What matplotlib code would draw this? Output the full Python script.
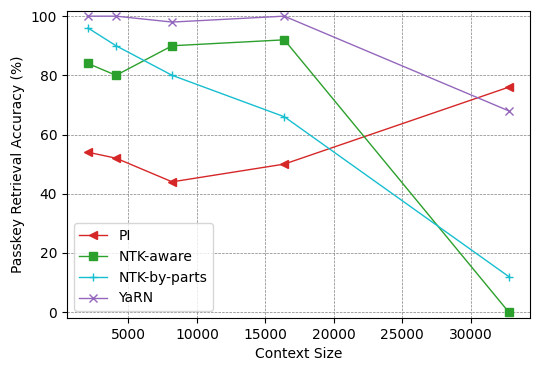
import matplotlib
matplotlib.use("Agg")
import matplotlib.pyplot as plt

# Context sizes and accuracy per method
context_sizes = [2048, 4096, 8192, 16384, 32768]
pi_acc = [54, 52, 44, 50, 76]
ntk_aware_acc = [84, 80, 90, 92, 0]
ntk_by_parts_acc = [96, 90, 80, 66, 12]
yarn_acc = [100, 100, 98, 100, 68]

fig, ax = plt.subplots(figsize=(5.4, 3.71), dpi=100)

ax.plot(context_sizes, pi_acc, marker='<', color='tab:red', linewidth=1, label='PI')
ax.plot(context_sizes, ntk_aware_acc, marker='s', color='tab:green', linewidth=1, label='NTK-aware')
ax.plot(context_sizes, ntk_by_parts_acc, marker='+', color='tab:cyan', linewidth=1, label='NTK-by-parts')
ax.plot(context_sizes, yarn_acc, marker='x', color='tab:purple', linewidth=1, label='YaRN')

ax.set_xlabel('Context Size')
ax.set_ylabel('Passkey Retrieval Accuracy (%)')
ax.set_ylim(-2, 101.7)
ax.grid(True, linestyle='--', color='gray', linewidth=0.5)
ax.legend(loc='lower left')

fig.subplots_adjust(left=0.124, right=0.981, top=0.97, bottom=0.143)
fig.savefig('out.png', dpi=100)
